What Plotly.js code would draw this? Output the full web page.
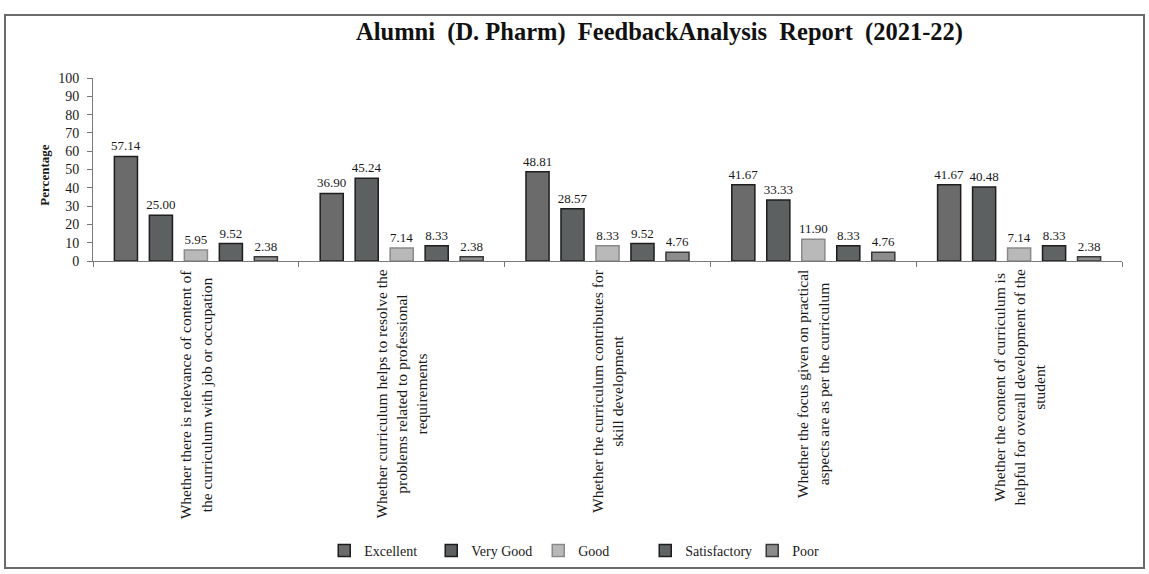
<!DOCTYPE html>
<html>
<head>
<meta charset="utf-8">
<script src="https://cdn.plot.ly/plotly-3.0.1.min.js"></script>
<style>
  html, body { margin: 0; padding: 0; background: #ffffff; }
  #frame { position: absolute; left: 4px; top: 14px; width: 1141px; height: 555px; border: 2px solid #6a6a6a; box-sizing: border-box; }
  #chart { position: absolute; left: 0; top: 0; width: 1149px; height: 574px; }
</style>
</head>
<body>
<div id="frame"></div>
<div id="chart"></div>
<script>
const categories = [
  "Whether there is relevance of content of<br>the curriculum with job or occupation",
  "Whether curriculum helps to resolve the<br>problems related to professional<br>requirements",
  "Whether the curriculum contributes for<br>skill development",
  "Whether the focus given on practical<br>aspects are as per the curriculum",
  "Whether the content of curriculum is<br>helpful for overall development of the<br>student"
];
const seriesNames = ["Excellent", "Very Good", "Good", "Satisfactory", "Poor"];
const excellent    = [57.14, 36.90, 48.81, 41.67, 41.67];
const veryGood     = [25.00, 45.24, 28.57, 33.33, 40.48];
const good         = [5.95, 7.14, 8.33, 11.90, 7.14];
const satisfactory = [9.52, 8.33, 9.52, 8.33, 8.33];
const poor         = [2.38, 2.38, 4.76, 4.76, 2.38];
const yTicks = [0, 10, 20, 30, 40, 50, 60, 70, 80, 90, 100];

const values = [excellent, veryGood, good, satisfactory, poor];
const fills = ["#6b6b6b", "#5c6060", "#b9b9b9", "#5f6363", "#8c8c8c"];
const edges = ["#1e1e1e", "#1e1e1e", "#8a8a8a", "#1e1e1e", "#3a3a3a"];
const serif = "Liberation Serif, Times New Roman, serif";

const xIdx = categories.map((c, i) => i);

const traces = values.map((v, k) => ({
  type: "bar",
  name: seriesNames[k],
  x: xIdx,
  y: v,
  text: v.map(n => n.toFixed(2)),
  textposition: "outside",
  constraintext: "none",
  cliponaxis: false,
  textfont: { family: serif, size: 13, color: "#1a1a1a" },
  marker: { color: fills[k], line: { color: edges[k], width: 1.5 } },
  hoverinfo: "x+y+name"
}));

const annotations = categories.map((c, i) => ({
  xref: "x", yref: "paper",
  x: i, y: -0.035,
  xanchor: "center", yanchor: "top",
  text: c,
  textangle: -90,
  align: "center",
  showarrow: false,
  font: { family: serif, size: 15.5, color: "#1a1a1a" }
}));

annotations.push({
  xref: "paper", yref: "paper",
  x: -0.047, y: 0.47,
  xanchor: "center", yanchor: "middle",
  text: "<b>Percentage</b>",
  textangle: -90,
  showarrow: false,
  font: { family: serif, size: 13, color: "#1a1a1a" }
});

const layout = {
  width: 1149, height: 574,
  paper_bgcolor: "rgba(0,0,0,0)",
  plot_bgcolor: "rgba(0,0,0,0)",
  margin: { l: 93, r: 27, t: 78, b: 313 },
  title: {
    text: "<b>Alumni\u00A0 (D. Pharm)\u00A0 FeedbackAnalysis\u00A0 Report\u00A0 (2021-22)</b>",
    font: { family: serif, size: 24.5, color: "#111" },
    xref: "container", yref: "container",
    x: 0.574, xanchor: "center",
    y: 0.945, yanchor: "middle"
  },
  barmode: "group",
  bargap: 0.15,
  bargroupgap: 0.34,
  showlegend: true,
  legend: {
    orientation: "h",
    xref: "container", yref: "container",
    x: 0.515, xanchor: "center",
    y: 1 - 551 / 574, yanchor: "middle",
    font: { family: serif, size: 14, color: "#1a1a1a" },
    itemwidth: 30,
    entrywidth: 62,
    entrywidthmode: "pixels",
    tracegroupgap: 0
  },
  xaxis: {
    type: "linear",
    range: [-0.5, 4.5],
    showticklabels: false,
    tickvals: [-0.5, 0.5, 1.5, 2.5, 3.5, 4.5],
    ticks: "outside", ticklen: 5, tickcolor: "#777",
    showline: true, linecolor: "#7a7a7a", linewidth: 1,
    showgrid: false, zeroline: false
  },
  yaxis: {
    range: [0, 100],
    tickvals: yTicks,
    ticktext: yTicks.map(String),
    ticks: "outside", ticklen: 5, tickcolor: "#777",
    ticklabelstandoff: 5,
    tickfont: { family: serif, size: 14, color: "#1a1a1a" },
    showline: true, linecolor: "#7a7a7a", linewidth: 1,
    showgrid: false, zeroline: false
  },
  annotations: annotations
};

Plotly.newPlot("chart", traces, layout, { displayModeBar: false, staticPlot: true });
</script>
</body>
</html>
